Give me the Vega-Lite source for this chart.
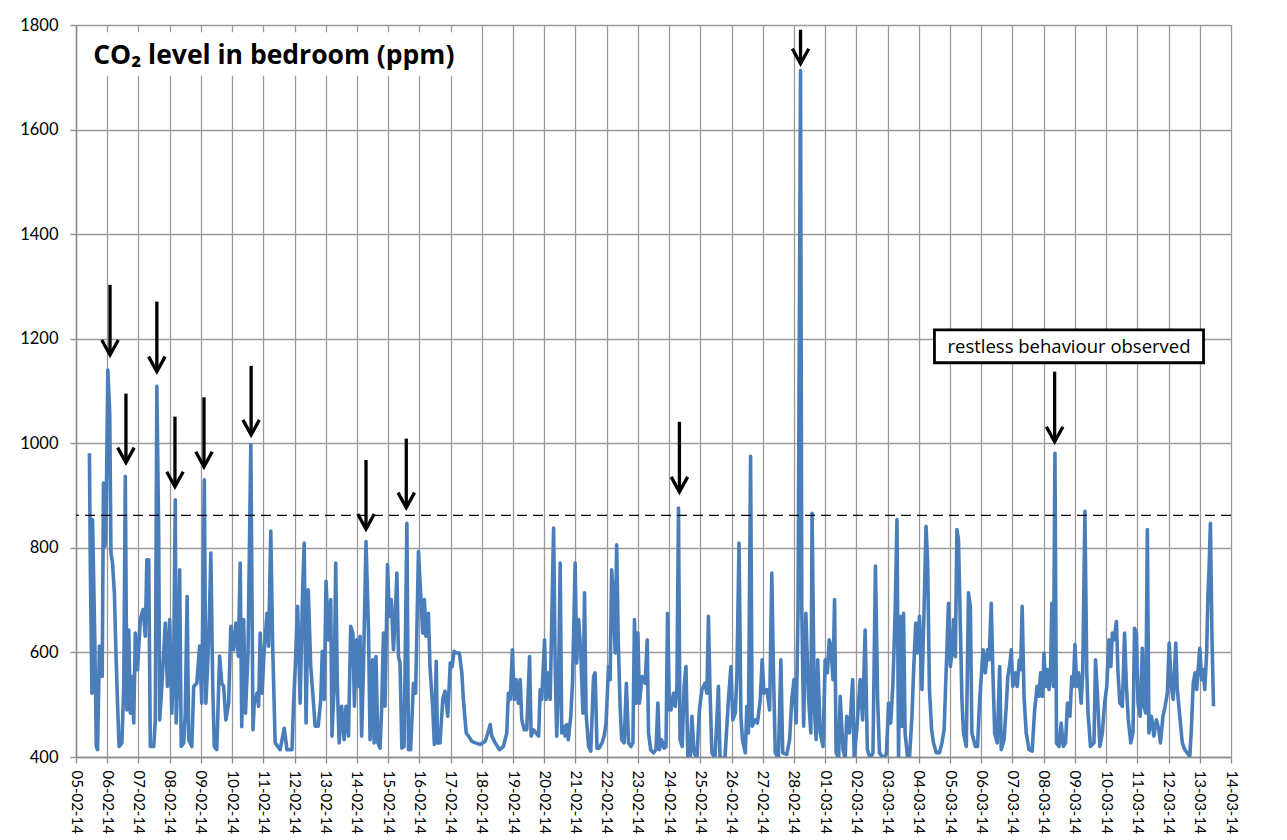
{
  "$schema": "https://vega.github.io/schema/vega-lite/v6.json",
  "autosize": {"type": "none"},
  "padding": {"left": 76, "top": 25, "right": 56, "bottom": 83},
  "width": 1155,
  "height": 732,
  "background": "white",
  "config": {
    "view": {"stroke": null},
    "font": "Lato",
    "axis": {"labelFont": "Lato", "labelFontSize": 15, "labelColor": "#000000", "labelOverlap": false, "labelBound": false, "labelFlush": false,
      "tickSize": 6, "tickColor": "#8c8c8c", "tickWidth": 1.3, "domainColor": "#8c8c8c", "domainWidth": 1.5,
      "grid": true, "gridColor": "#9a9a9a", "gridWidth": 1.3},
    "axisX": {"labelAngle": 90, "labelAlign": "left", "labelBaseline": "middle", "labelPadding": 7},
    "axisY": {"labelPadding": 12, "labelFontSize": 16.5}
  },
  "datasets": {
    "co2": [
      {"d":0.43,"v":981},{"d":0.46,"v":758},{"d":0.51,"v":522},{"d":0.53,"v":854},{"d":0.60,"v":631},{"d":0.65,"v":420},{"d":0.69,"v":414},{"d":0.75,"v":612},{"d":0.78,"v":554},{"d":0.84,"v":554},{"d":0.88,"v":924},{"d":0.93,"v":803},{"d":0.97,"v":886},{"d":1.02,"v":1140},{"d":1.08,"v":1058},{"d":1.12,"v":790},{"d":1.17,"v":771},{"d":1.23,"v":713},{"d":1.28,"v":599},{"d":1.33,"v":503},{"d":1.38,"v":420},{"d":1.47,"v":427},{"d":1.53,"v":535},{"d":1.58,"v":937},{"d":1.63,"v":490},{"d":1.69,"v":643},{"d":1.74,"v":484},{"d":1.79,"v":554},{"d":1.85,"v":465},{"d":1.90,"v":637},{"d":1.97,"v":567},{"d":2.06,"v":663},{"d":2.15,"v":682},{"d":2.22,"v":631},{"d":2.27,"v":777},{"d":2.33,"v":777},{"d":2.38,"v":420},{"d":2.49,"v":420},{"d":2.54,"v":471},{"d":2.59,"v":1109},{"d":2.65,"v":822},{"d":2.68,"v":471},{"d":2.75,"v":535},{"d":2.86,"v":656},{"d":2.93,"v":535},{"d":3.00,"v":663},{"d":3.07,"v":484},{"d":3.13,"v":586},{"d":3.18,"v":892},{"d":3.21,"v":465},{"d":3.27,"v":567},{"d":3.32,"v":758},{"d":3.37,"v":420},{"d":3.45,"v":427},{"d":3.50,"v":484},{"d":3.56,"v":707},{"d":3.61,"v":433},{"d":3.71,"v":420},{"d":3.77,"v":535},{"d":3.87,"v":541},{"d":3.96,"v":612},{"d":4.03,"v":503},{"d":4.11,"v":930},{"d":4.16,"v":503},{"d":4.22,"v":580},{"d":4.27,"v":663},{"d":4.32,"v":790},{"d":4.38,"v":535},{"d":4.43,"v":420},{"d":4.51,"v":414},{"d":4.60,"v":593},{"d":4.67,"v":541},{"d":4.73,"v":535},{"d":4.80,"v":471},{"d":4.89,"v":503},{"d":4.96,"v":650},{"d":5.05,"v":605},{"d":5.12,"v":656},{"d":5.20,"v":593},{"d":5.26,"v":771},{"d":5.31,"v":458},{"d":5.37,"v":663},{"d":5.43,"v":484},{"d":5.51,"v":599},{"d":5.60,"v":997},{"d":5.67,"v":452},{"d":5.71,"v":503},{"d":5.80,"v":522},{"d":5.85,"v":497},{"d":5.90,"v":637},{"d":5.96,"v":522},{"d":6.03,"v":605},{"d":6.12,"v":675},{"d":6.17,"v":612},{"d":6.24,"v":832},{"d":6.30,"v":612},{"d":6.38,"v":427},{"d":6.54,"v":414},{"d":6.67,"v":455},{"d":6.76,"v":414},{"d":6.92,"v":414},{"d":6.97,"v":503},{"d":7.02,"v":567},{"d":7.10,"v":688},{"d":7.18,"v":503},{"d":7.26,"v":720},{"d":7.31,"v":809},
      {"d":7.37,"v":465},{"d":7.44,"v":720},{"d":7.52,"v":573},{"d":7.60,"v":510},{"d":7.66,"v":459},{"d":7.76,"v":459},{"d":7.84,"v":510},{"d":7.89,"v":602},{"d":7.95,"v":510},{"d":8.01,"v":736},{"d":8.09,"v":624},{"d":8.16,"v":701},{"d":8.20,"v":440},{"d":8.27,"v":535},{"d":8.32,"v":771},{"d":8.37,"v":541},{"d":8.43,"v":427},{"d":8.51,"v":497},{"d":8.59,"v":433},{"d":8.65,"v":497},{"d":8.73,"v":440},{"d":8.80,"v":650},{"d":8.87,"v":637},{"d":8.92,"v":497},{"d":8.99,"v":624},{"d":9.05,"v":535},{"d":9.10,"v":631},{"d":9.15,"v":440},{"d":9.21,"v":573},{"d":9.29,"v":812},{"d":9.37,"v":643},{"d":9.42,"v":433},{"d":9.50,"v":586},{"d":9.55,"v":427},{"d":9.61,"v":592},{"d":9.67,"v":427},{"d":9.74,"v":417},{"d":9.79,"v":490},{"d":9.85,"v":637},{"d":9.90,"v":497},{"d":9.98,"v":768},{"d":10.04,"v":669},{"d":10.10,"v":701},{"d":10.17,"v":605},{"d":10.22,"v":663},{"d":10.28,"v":752},{"d":10.33,"v":592},{"d":10.38,"v":580},{"d":10.44,"v":417},{"d":10.51,"v":420},{"d":10.60,"v":847},{"d":10.65,"v":414},{"d":10.72,"v":414},{"d":10.81,"v":541},{"d":10.88,"v":522},{"d":10.97,"v":793},{"d":11.04,"v":714},{"d":11.11,"v":637},{"d":11.16,"v":701},{"d":11.21,"v":631},{"d":11.29,"v":675},{"d":11.34,"v":573},{"d":11.43,"v":490},{"d":11.48,"v":424},{"d":11.54,"v":583},{"d":11.58,"v":427},{"d":11.66,"v":427},{"d":11.75,"v":510},{"d":11.82,"v":526},{"d":11.91,"v":478},{"d":11.99,"v":580},{"d":12.05,"v":573},{"d":12.11,"v":602},{"d":12.20,"v":599},{"d":12.28,"v":599},{"d":12.36,"v":561},{"d":12.41,"v":510},{"d":12.50,"v":446},{"d":12.57,"v":440},{"d":12.68,"v":430},{"d":12.79,"v":427},{"d":12.95,"v":424},{"d":13.11,"v":430},{"d":13.21,"v":449},{"d":13.27,"v":462},{"d":13.32,"v":440},{"d":13.43,"v":427},{"d":13.57,"v":414},{"d":13.69,"v":420},{"d":13.80,"v":446},{"d":13.85,"v":522},{"d":13.91,"v":510},{"d":13.98,"v":605},{"d":14.04,"v":510},{"d":14.10,"v":548},{"d":14.17,"v":503},{"d":14.23,"v":548},{"d":14.28,"v":471},{"d":14.36,"v":452},{"d":14.44,"v":452},{"d":14.53,"v":592},{"d":14.58,"v":440},{"d":14.66,"v":452},{"d":14.74,"v":446},{"d":14.82,"v":440},{"d":14.87,"v":529},{"d":14.92,"v":510},{"d":15.01,"v":624},{"d":15.06,"v":510},{"d":15.14,"v":561},{"d":15.19,"v":510},{"d":15.30,"v":838},{"d":15.35,"v":573},{"d":15.40,"v":440},{"d":15.46,"v":548},{"d":15.51,"v":771},{"d":15.56,"v":446},{"d":15.62,"v":459},{"d":15.67,"v":440},{"d":15.72,"v":462},{"d":15.77,"v":433},{"d":15.85,"v":478},{"d":15.91,"v":548},{"d":15.99,"v":771},{"d":16.04,"v":580},{"d":16.10,"v":663},{"d":16.17,"v":599},{"d":16.24,"v":484},{"d":16.29,"v":714},{"d":16.34,"v":484},{"d":16.42,"v":420},{"d":16.49,"v":411},{"d":16.58,"v":554},{"d":16.63,"v":561},{"d":16.69,"v":417},{"d":16.76,"v":417},{"d":16.85,"v":427},{"d":16.92,"v":440},{"d":16.98,"v":465},{"d":17.06,"v":573},{"d":17.11,"v":548},{"d":17.16,"v":758},{"d":17.22,"v":701},{"d":17.27,"v":599},{"d":17.32,"v":806},{"d":17.37,"v":624},{"d":17.43,"v":497},{"d":17.48,"v":433},{"d":17.56,"v":427},{"d":17.63,"v":541},{"d":17.70,"v":427},{"d":17.78,"v":420},{"d":17.84,"v":427},{"d":17.89,"v":663},{"d":17.95,"v":503},{"d":18.00,"v":637},{"d":18.05,"v":503},{"d":18.13,"v":554},{"d":18.23,"v":541},{"d":18.30,"v":624},
      {"d":18.34,"v":446},{"d":18.41,"v":414},{"d":18.50,"v":408},{"d":18.58,"v":414},{"d":18.64,"v":503},{"d":18.69,"v":414},{"d":18.76,"v":433},{"d":18.84,"v":417},{"d":18.90,"v":420},{"d":18.95,"v":675},{"d":19.01,"v":490},{"d":19.06,"v":490},{"d":19.14,"v":522},{"d":19.20,"v":497},{"d":19.25,"v":535},{"d":19.30,"v":876},{"d":19.35,"v":433},{"d":19.42,"v":420},{"d":19.48,"v":535},{"d":19.54,"v":573},{"d":19.60,"v":401},{"d":19.67,"v":398},{"d":19.73,"v":478},{"d":19.80,"v":408},{"d":19.89,"v":398},{"d":19.97,"v":490},{"d":20.05,"v":529},{"d":20.15,"v":541},{"d":20.21,"v":522},{"d":20.26,"v":669},{"d":20.31,"v":529},{"d":20.37,"v":408},{"d":20.47,"v":398},{"d":20.58,"v":535},{"d":20.63,"v":398},{"d":20.79,"v":398},{"d":20.90,"v":510},{"d":20.98,"v":573},{"d":21.04,"v":471},{"d":21.12,"v":484},{"d":21.17,"v":554},{"d":21.24,"v":809},{"d":21.30,"v":478},{"d":21.35,"v":433},{"d":21.44,"v":408},{"d":21.49,"v":497},{"d":21.54,"v":446},{"d":21.61,"v":975},{"d":21.66,"v":459},{"d":21.76,"v":471},{"d":21.83,"v":465},{"d":21.92,"v":510},{"d":21.98,"v":586},{"d":22.04,"v":522},{"d":22.13,"v":529},{"d":22.22,"v":490},{"d":22.29,"v":752},{"d":22.34,"v":573},{"d":22.40,"v":408},{"d":22.50,"v":398},{"d":22.58,"v":586},{"d":22.64,"v":408},{"d":22.77,"v":405},{"d":22.86,"v":433},{"d":22.93,"v":510},{"d":23.00,"v":548},{"d":23.07,"v":465},{"d":23.13,"v":675},{"d":23.21,"v":1713},{"d":23.25,"v":682},{"d":23.31,"v":459},{"d":23.38,"v":675},{"d":23.47,"v":510},{"d":23.54,"v":446},{"d":23.58,"v":866},{"d":23.65,"v":497},{"d":23.71,"v":433},{"d":23.76,"v":586},{"d":23.84,"v":446},{"d":23.93,"v":420},{"d":24.00,"v":586},{"d":24.07,"v":561},{"d":24.13,"v":624},{"d":24.18,"v":612},{"d":24.25,"v":548},{"d":24.30,"v":701},{"d":24.35,"v":408},{"d":24.43,"v":398},{"d":24.48,"v":516},{"d":24.57,"v":414},{"d":24.64,"v":398},{"d":24.69,"v":478},{"d":24.78,"v":446},{"d":24.88,"v":548},{"d":24.93,"v":398},{"d":25.02,"v":459},{"d":25.12,"v":548},{"d":25.20,"v":471},{"d":25.28,"v":643},{"d":25.35,"v":414},{"d":25.44,"v":398},{"d":25.53,"v":408},{"d":25.61,"v":765},{"d":25.68,"v":510},{"d":25.74,"v":408},{"d":25.85,"v":398},{"d":25.96,"v":405},{"d":26.03,"v":503},{"d":26.10,"v":465},{"d":26.17,"v":541},{"d":26.24,"v":675},{"d":26.30,"v":854},{"d":26.35,"v":398},{"d":26.40,"v":669},{"d":26.46,"v":459},{"d":26.51,"v":675},{"d":26.56,"v":446},{"d":26.64,"v":398},{"d":26.70,"v":398},{"d":26.78,"v":478},{"d":26.83,"v":561},{"d":26.90,"v":656},{"d":26.96,"v":599},{"d":27.02,"v":669},{"d":27.10,"v":529},{"d":27.17,"v":688},{"d":27.23,"v":841},{"d":27.28,"v":777},{"d":27.34,"v":529},{"d":27.41,"v":452},{"d":27.47,"v":427},{"d":27.56,"v":408},{"d":27.66,"v":408},{"d":27.74,"v":427},{"d":27.81,"v":452},{"d":27.88,"v":573},{"d":27.95,"v":694},{"d":28.01,"v":573},{"d":28.06,"v":599},{"d":28.11,"v":663},{"d":28.17,"v":592},{"d":28.22,"v":835},{"d":28.27,"v":816},{"d":28.33,"v":650},{"d":28.38,"v":510},{"d":28.43,"v":446},{"d":28.52,"v":420},{"d":28.59,"v":714},{"d":28.65,"v":688},{"d":28.70,"v":446},{"d":28.81,"v":420},{"d":28.88,"v":420},{"d":28.95,"v":510},
      {"d":29.06,"v":605},{"d":29.13,"v":561},{"d":29.20,"v":605},{"d":29.25,"v":586},{"d":29.32,"v":694},{"d":29.37,"v":567},{"d":29.43,"v":446},{"d":29.51,"v":427},{"d":29.59,"v":573},{"d":29.64,"v":414},{"d":29.73,"v":433},{"d":29.80,"v":497},{"d":29.85,"v":554},{"d":29.92,"v":580},{"d":29.96,"v":605},{"d":30.01,"v":535},{"d":30.09,"v":561},{"d":30.15,"v":535},{"d":30.22,"v":586},{"d":30.26,"v":567},{"d":30.31,"v":688},{"d":30.37,"v":516},{"d":30.44,"v":446},{"d":30.53,"v":414},{"d":30.63,"v":411},{"d":30.71,"v":490},{"d":30.79,"v":535},{"d":30.85,"v":516},{"d":30.90,"v":561},{"d":30.96,"v":516},{"d":31.01,"v":599},{"d":31.06,"v":535},{"d":31.12,"v":567},{"d":31.17,"v":529},{"d":31.22,"v":567},{"d":31.26,"v":694},{"d":31.31,"v":535},{"d":31.36,"v":981},{"d":31.41,"v":427},{"d":31.49,"v":420},{"d":31.56,"v":465},{"d":31.63,"v":420},{"d":31.70,"v":427},{"d":31.76,"v":503},{"d":31.84,"v":478},{"d":31.90,"v":554},{"d":31.95,"v":535},{"d":32.00,"v":615},{"d":32.06,"v":535},{"d":32.12,"v":561},{"d":32.20,"v":503},{"d":32.25,"v":561},{"d":32.32,"v":870},{"d":32.38,"v":561},{"d":32.42,"v":484},{"d":32.50,"v":420},{"d":32.61,"v":427},{"d":32.66,"v":586},{"d":32.72,"v":522},{"d":32.80,"v":420},{"d":32.88,"v":446},{"d":32.95,"v":503},{"d":33.02,"v":535},{"d":33.09,"v":624},{"d":33.15,"v":573},{"d":33.20,"v":637},{"d":33.25,"v":624},{"d":33.33,"v":659},{"d":33.38,"v":561},{"d":33.44,"v":503},{"d":33.52,"v":497},{"d":33.59,"v":637},{"d":33.65,"v":535},{"d":33.71,"v":471},{"d":33.79,"v":427},{"d":33.86,"v":446},{"d":33.91,"v":646},{"d":33.97,"v":637},{"d":34.02,"v":503},{"d":34.09,"v":478},{"d":34.16,"v":608},{"d":34.21,"v":497},{"d":34.27,"v":484},{"d":34.32,"v":835},{"d":34.37,"v":446},{"d":34.45,"v":478},{"d":34.53,"v":440},{"d":34.61,"v":471},{"d":34.69,"v":452},{"d":34.74,"v":427},{"d":34.82,"v":478},{"d":34.89,"v":497},{"d":34.96,"v":522},{"d":35.02,"v":618},{"d":35.09,"v":535},{"d":35.15,"v":510},{"d":35.23,"v":618},{"d":35.28,"v":529},{"d":35.37,"v":471},{"d":35.44,"v":427},{"d":35.52,"v":414},{"d":35.60,"v":408},{"d":35.68,"v":401},{"d":35.73,"v":452},{"d":35.79,"v":541},{"d":35.85,"v":561},{"d":35.90,"v":529},{"d":35.94,"v":561},{"d":36.00,"v":608},{"d":36.06,"v":548},{"d":36.11,"v":567},{"d":36.16,"v":529},{"d":36.22,"v":599},{"d":36.26,"v":707},{"d":36.30,"v":765},{"d":36.34,"v":847},{"d":36.39,"v":631},{"d":36.44,"v":497}
    ],
    "arrows": [
      {"d":1.09,"top":1303,"tip":1169},{"d":1.60,"top":1095,"tip":963},{"d":2.59,"top":1271,"tip":1137},{"d":3.17,"top":1051,"tip":917},{"d":4.10,"top":1088,"tip":955},{"d":5.61,"top":1148,"tip":1016},{"d":9.29,"top":968,"tip":836},{"d":10.58,"top":1009,"tip":877},{"d":19.33,"top":1041,"tip":907},{"d":23.21,"top":1791,"tip":1726},{"d":31.35,"top":1137,"tip":1003}
    ],
    "one": [{}]
  },
  "layer": [
    {
      "data": {"name": "co2"},
      "mark": {"type": "line", "color": "#4a7ebb", "strokeWidth": 3.6, "strokeJoin": "round", "clip": true},
      "encoding": {
        "x": {"field": "d", "type": "quantitative", "scale": {"domain": [0, 37], "nice": false, "zero": false},
          "axis": {"title": null, "tickCount": 40, "values": [0,1,2,3,4,5,6,7,8,9,10,11,12,13,14,15,16,17,18,19,20,21,22,23,24,25,26,27,28,29,30,31,32,33,34,35,36,37], "labelExpr": "timeFormat(datetime(2014, 1, 5 + datum.value), '%d-%m-%y')"}},
        "y": {"field": "v", "type": "quantitative", "scale": {"domain": [400, 1800], "nice": false, "zero": false},
          "axis": {"title": null, "tickCount": 10, "values": [400,600,800,1000,1200,1400,1600,1800], "format": "d"}}
      }
    },
    {
      "data": {"name": "one"},
      "mark": {"type": "rect", "fill": "white"},
      "encoding": {
        "x": {"datum": 0.2, "type": "quantitative", "scale": {"domain": [0, 37], "nice": false, "zero": false},
          "axis": {"title": null, "tickCount": 40, "values": [0,1,2,3,4,5,6,7,8,9,10,11,12,13,14,15,16,17,18,19,20,21,22,23,24,25,26,27,28,29,30,31,32,33,34,35,36,37], "labelExpr": "timeFormat(datetime(2014, 1, 5 + datum.value), '%d-%m-%y')"}},
        "x2": {"datum": 12.4},
        "y": {"datum": 1703, "type": "quantitative", "scale": {"domain": [400, 1800], "nice": false, "zero": false},
          "axis": {"title": null, "tickCount": 10, "values": [400,600,800,1000,1200,1400,1600,1800], "format": "d"}},
        "y2": {"datum": 1786}
      }
    },
    {
      "data": {"name": "one"},
      "mark": {"type": "rule", "color": "black", "strokeWidth": 1.3, "strokeDash": [10, 6]},
      "encoding": {
        "y": {"datum": 862, "type": "quantitative", "scale": {"domain": [400, 1800], "nice": false, "zero": false},
          "axis": {"title": null, "tickCount": 10, "values": [400,600,800,1000,1200,1400,1600,1800], "format": "d"}}
      }
    },
    {
      "data": {"name": "arrows"},
      "mark": {"type": "rule", "color": "black", "strokeWidth": 3.3},
      "encoding": {
        "x": {"field": "d", "type": "quantitative", "scale": {"domain": [0, 37], "nice": false, "zero": false},
          "axis": {"title": null, "tickCount": 40, "values": [0,1,2,3,4,5,6,7,8,9,10,11,12,13,14,15,16,17,18,19,20,21,22,23,24,25,26,27,28,29,30,31,32,33,34,35,36,37], "labelExpr": "timeFormat(datetime(2014, 1, 5 + datum.value), '%d-%m-%y')"}},
        "y": {"field": "top", "type": "quantitative", "scale": {"domain": [400, 1800], "nice": false, "zero": false},
          "axis": {"title": null, "tickCount": 10, "values": [400,600,800,1000,1200,1400,1600,1800], "format": "d"}},
        "y2": {"field": "tip"}
      }
    },
    {
      "data": {"name": "arrows"},
      "mark": {"type": "point", "shape": "M-0.55,-1L0,0L0.55,-1", "filled": false, "stroke": "black", "strokeWidth": 3.3, "size": 900, "opacity": 1, "strokeJoin": "miter"},
      "encoding": {
        "x": {"field": "d", "type": "quantitative", "scale": {"domain": [0, 37], "nice": false, "zero": false},
          "axis": {"title": null, "tickCount": 40, "values": [0,1,2,3,4,5,6,7,8,9,10,11,12,13,14,15,16,17,18,19,20,21,22,23,24,25,26,27,28,29,30,31,32,33,34,35,36,37], "labelExpr": "timeFormat(datetime(2014, 1, 5 + datum.value), '%d-%m-%y')"}},
        "y": {"field": "tip", "type": "quantitative", "scale": {"domain": [400, 1800], "nice": false, "zero": false},
          "axis": {"title": null, "tickCount": 10, "values": [400,600,800,1000,1200,1400,1600,1800], "format": "d"}}
      }
    },
    {
      "data": {"name": "one"},
      "mark": {"type": "rect", "fill": "white", "stroke": "black", "strokeWidth": 2.8},
      "encoding": {
        "x": {"datum": 27.5, "type": "quantitative", "scale": {"domain": [0, 37], "nice": false, "zero": false},
          "axis": {"title": null, "tickCount": 40, "values": [0,1,2,3,4,5,6,7,8,9,10,11,12,13,14,15,16,17,18,19,20,21,22,23,24,25,26,27,28,29,30,31,32,33,34,35,36,37], "labelExpr": "timeFormat(datetime(2014, 1, 5 + datum.value), '%d-%m-%y')"}},
        "x2": {"datum": 36.12},
        "y": {"datum": 1154, "type": "quantitative", "scale": {"domain": [400, 1800], "nice": false, "zero": false},
          "axis": {"title": null, "tickCount": 10, "values": [400,600,800,1000,1200,1400,1600,1800], "format": "d"}},
        "y2": {"datum": 1217}
      }
    },
    {
      "data": {"name": "one"},
      "mark": {"type": "text", "text": "restless behaviour observed", "font": "Open Sans", "fontSize": 18.5, "color": "black", "align": "center", "baseline": "middle"},
      "encoding": {
        "x": {"datum": 31.81, "type": "quantitative", "scale": {"domain": [0, 37], "nice": false, "zero": false},
          "axis": {"title": null, "tickCount": 40, "values": [0,1,2,3,4,5,6,7,8,9,10,11,12,13,14,15,16,17,18,19,20,21,22,23,24,25,26,27,28,29,30,31,32,33,34,35,36,37], "labelExpr": "timeFormat(datetime(2014, 1, 5 + datum.value), '%d-%m-%y')"}},
        "y": {"datum": 1185, "type": "quantitative", "scale": {"domain": [400, 1800], "nice": false, "zero": false},
          "axis": {"title": null, "tickCount": 10, "values": [400,600,800,1000,1200,1400,1600,1800], "format": "d"}}
      }
    },
    {
      "data": {"name": "one"},
      "mark": {"type": "text", "text": "CO₂ level in bedroom (ppm)", "font": "Open Sans", "fontSize": 26.5, "fontWeight": "bold", "color": "black", "align": "left", "baseline": "middle"},
      "encoding": {
        "x": {"datum": 0.55, "type": "quantitative", "scale": {"domain": [0, 37], "nice": false, "zero": false},
          "axis": {"title": null, "tickCount": 40, "values": [0,1,2,3,4,5,6,7,8,9,10,11,12,13,14,15,16,17,18,19,20,21,22,23,24,25,26,27,28,29,30,31,32,33,34,35,36,37], "labelExpr": "timeFormat(datetime(2014, 1, 5 + datum.value), '%d-%m-%y')"}},
        "y": {"datum": 1741, "type": "quantitative", "scale": {"domain": [400, 1800], "nice": false, "zero": false},
          "axis": {"title": null, "tickCount": 10, "values": [400,600,800,1000,1200,1400,1600,1800], "format": "d"}}
      }
    }
  ]
}
